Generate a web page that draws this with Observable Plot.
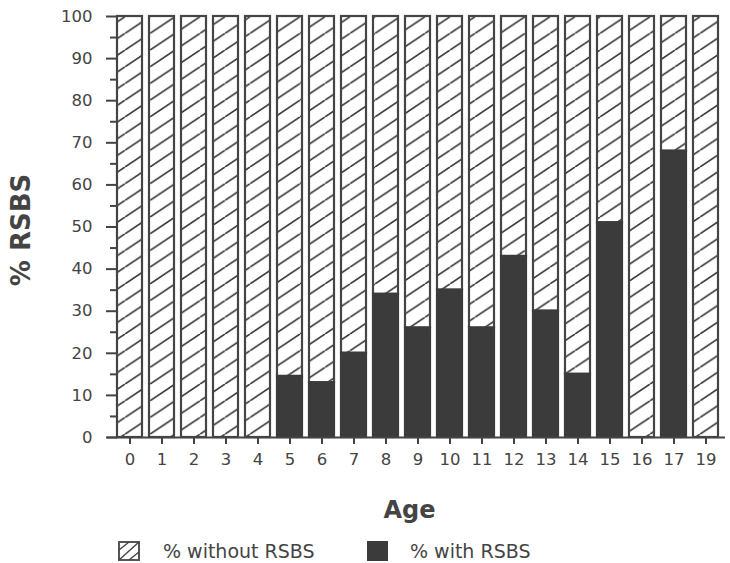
<!DOCTYPE html>
<html><head><meta charset="utf-8">
<script src="https://cdn.jsdelivr.net/npm/d3@7"></script>
<script src="https://cdn.jsdelivr.net/npm/@observablehq/plot@0.6"></script>
<style>
body{margin:0;background:#fff;font-family:"DejaVu Sans",sans-serif;color:#444}
#wrap{position:relative;width:730px;height:563px;overflow:hidden}
#chart{position:absolute;left:0;top:0}
.lg{position:absolute;font-size:19px;line-height:19px;white-space:nowrap;color:#444}
</style></head><body>
<svg width="0" height="0" style="position:absolute"><defs>
<pattern id="hatch" patternUnits="userSpaceOnUse" width="25" height="16.7">
<rect width="25" height="16.7" fill="#fff"/>
<path d="M0,16.7L25,0M-25,16.7L0,0M25,16.7L50,0" stroke="#3c3c3c" stroke-width="1.7" fill="none"/>
</pattern></defs></svg>
<div id="wrap">
<div id="chart"></div>
<svg class="lg" style="left:118px;top:541px" width="22" height="20"><rect x="1" y="1" width="20" height="18" fill="#fff" stroke="#555" stroke-width="2"/><path d="M1,19L21,1M1,9L11,1M11,19L21,11" stroke="#444" stroke-width="1.4"/></svg>
<div class="lg" style="left:163px;top:542px">% without RSBS</div>
<svg class="lg" style="left:367px;top:541px" width="22" height="20"><rect x="0" y="0" width="21" height="20" fill="#3b3b3b"/></svg>
<div class="lg" style="left:410px;top:542px">% with RSBS</div>
</div>
<script>
const ages = ["0","1","2","3","4","5","6","7","8","9","10","11","12","13","14","15","16","17","19"];
const withRSBS    = [0,0,0,0,0,14.5,13,20,34,26,35,26,43,30,15,51,0,68,0];
const withoutRSBS = [100,100,100,100,100,85.5,87,80,66,74,65,74,57,70,85,49,100,32,100];
const yTicks = [0,10,20,30,40,50,60,70,80,90,100];
const yMinorTicks = [5,15,25,35,45,55,65,75,85,95];

const data = ages.map((a,i)=>({age:a, w:withRSBS[i], wo:withoutRSBS[i]}));

const W = 730, H = 530, mL = 117, mR = 3, mT = 16, mB = 93;
const xOpts = {domain: ages, paddingInner: 0.23, paddingOuter: 0, align: 0};
const xs = Plot.scale({x: {...xOpts, range: [mL, W - mR]}});
const bw = xs.bandwidth;
const ink = "#444";

const plot = Plot.plot({
  width: W, height: H,
  marginLeft: mL, marginRight: mR, marginTop: mT, marginBottom: mB,
  style: {fontFamily: "DejaVu Sans", fontSize: "16px", color: ink, background: "transparent"},
  x: {...xOpts, axis: null, label: null},
  y: {domain: [0, 100], axis: null, label: null},
  marks: [
    Plot.barY(data, {x: "age", y1: "w", y2: d => d.w + d.wo, fill: "url(#hatch)", stroke: "#454545", strokeWidth: 2.2}),
    Plot.barY(data.filter(d => d.w > 0), {x: "age", y1: 0, y2: "w", fill: "#3b3b3b", stroke: "#3b3b3b", strokeWidth: 2.2}),
    Plot.ruleY([0], {stroke: ink, strokeWidth: 2, insetLeft: -10, insetRight: 2}),
    (index, scales, values, dim) => {
      const g = d3.create("svg:line")
        .attr("x1", dim.marginLeft).attr("x2", dim.marginLeft)
        .attr("y1", dim.marginTop).attr("y2", dim.height - dim.marginBottom + 1)
        .attr("stroke", ink).attr("stroke-width", 2);
      return g.node();
    },
    Plot.axisY({ticks: yTicks, tickSize: 11, tickPadding: 14, strokeWidth: 2, stroke: ink, fontSize: 16.5, label: null}),
    Plot.axisY({ticks: yMinorTicks, tickSize: 7, tickFormat: () => "", strokeWidth: 2, stroke: ink, label: null}),
    Plot.axisX({tickSize: 7, tickFormat: () => "", dx: -bw / 2, strokeWidth: 2, stroke: ink, label: null}),
    Plot.axisX({tickSize: 0, tickPadding: 16, fontSize: 16.5, label: null}),
    Plot.text(["Age"], {frameAnchor: "bottom", dx: -13, dy: 80, fontSize: 24, fontWeight: "bold", fill: ink}),
    Plot.text(["% RSBS"], {frameAnchor: "left", textAnchor: "middle", rotate: -90, dx: -96, dy: 3, fontSize: 26, fontWeight: "bold", fill: ink})
  ]
});
document.getElementById("chart").appendChild(plot);
</script>
</body></html>
